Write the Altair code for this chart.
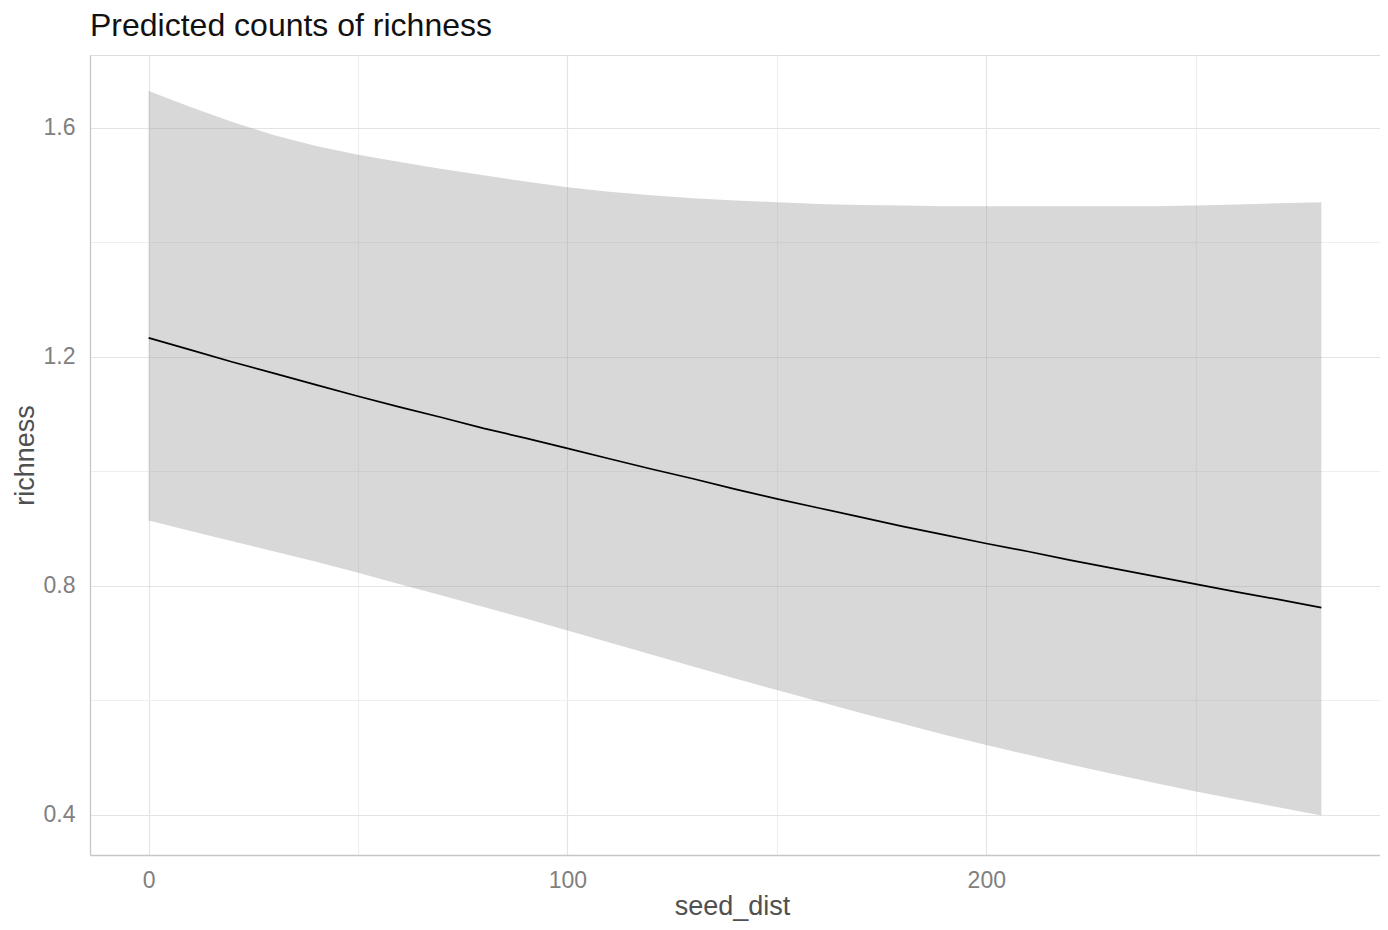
import altair as alt
import pandas as pd

# Values
seed_dist = [0, 10, 20, 30, 40, 50, 60, 70, 80, 90, 100, 110, 120, 130, 140,
             150, 160, 170, 180, 190, 200, 210, 220, 230, 240, 250, 260, 270, 280]
predicted = [1.233, 1.212, 1.191, 1.171, 1.151, 1.131, 1.112, 1.094, 1.075, 1.058,
             1.040, 1.022, 1.004, 0.987, 0.969, 0.952, 0.936, 0.920, 0.904, 0.889,
             0.874, 0.860, 0.845, 0.831, 0.817, 0.803, 0.789, 0.776, 0.762]
conf_low = [0.914, 0.896, 0.878, 0.860, 0.842, 0.823, 0.803, 0.783, 0.763, 0.743,
            0.722, 0.701, 0.680, 0.659, 0.638, 0.618, 0.598, 0.578, 0.559, 0.540,
            0.522, 0.505, 0.488, 0.472, 0.456, 0.441, 0.427, 0.413, 0.399]
conf_high = [1.664, 1.636, 1.610, 1.587, 1.568, 1.553, 1.540, 1.528, 1.517, 1.506,
             1.496, 1.488, 1.482, 1.477, 1.473, 1.470, 1.467, 1.465, 1.464, 1.463,
             1.463, 1.463, 1.463, 1.463, 1.463, 1.464, 1.466, 1.468, 1.470]

x_ticks = [0, 50, 100, 150, 200, 250]
y_ticks = [0.4, 0.6, 0.8, 1.0, 1.2, 1.4, 1.6]

df = pd.DataFrame({
    "seed_dist": seed_dist,
    "predicted": predicted,
    "conf_low": conf_low,
    "conf_high": conf_high,
})

FONT = "Liberation Sans"

x_scale = alt.Scale(domain=[-14, 294], nice=False, zero=False)
y_scale = alt.Scale(domain=[0.330, 1.727], nice=False, zero=False)

x_axis = alt.Axis(
    values=x_ticks,
    labelExpr="datum.value % 100 === 0 ? datum.label : ''",
    grid=True,
    gridColor={"condition": {"test": "datum.value % 100 !== 0", "value": "#EFEFEF"},
               "value": "#E4E4E4"},
    gridWidth=1.2,
    domain=True, domainColor="#C6C6C6", domainWidth=1.3,
    ticks=False, tickSize=0,
    labelFont=FONT, labelFontSize=23, labelColor="#808080",
    labelBaseline="alphabetic", labelPadding=32,
    title="seed_dist", titleFont=FONT, titleFontSize=27, titleColor="#505050",
    titleFontWeight="normal", titleBaseline="alphabetic", titleAlign="center",
    titleX=642, titleY=59,
)

y_axis = alt.Axis(
    values=y_ticks,
    labelExpr="round(datum.value * 10) % 4 === 0 ? format(datum.value, '.1f') : ''",
    grid=True,
    gridColor={"condition": {"test": "round(datum.value * 10) % 4 !== 0", "value": "#EFEFEF"},
               "value": "#E4E4E4"},
    gridWidth=1.2,
    domain=True, domainColor="#C6C6C6", domainWidth=1.3,
    ticks=False, tickSize=0,
    labelFont=FONT, labelFontSize=23, labelColor="#808080",
    labelBaseline="middle", labelPadding=15,
    title="richness", titleFont=FONT, titleFontSize=27, titleColor="#505050",
    titleFontWeight="normal", titleBaseline="alphabetic", titleAlign="center",
    titleAngle=270, titleX=-57, titleY=400,
)

base = alt.Chart(df)

band = base.mark_area(color="#999999", opacity=0.38).encode(
    x=alt.X("seed_dist:Q", scale=x_scale, axis=x_axis),
    y=alt.Y("conf_low:Q", scale=y_scale, axis=y_axis),
    y2="conf_high:Q",
)

line = base.mark_line(color="#000000", strokeWidth=1.7).encode(
    x=alt.X("seed_dist:Q", scale=x_scale),
    y=alt.Y("predicted:Q", scale=y_scale),
)

chart = alt.layer(band, line).properties(
    width=1290,
    height=800,
    autosize=alt.AutoSizeParams(type="none"),
    padding={"left": 82, "top": 47, "right": 0, "bottom": 67},
    title=alt.TitleParams(
        "Predicted counts of richness",
        anchor="start", frame="group", font=FONT, fontSize=32,
        fontWeight="normal", color="#111111", offset=12,
    ),
).configure_view(stroke=None).configure(background="white")

chart.save("out.html", embed_options={"renderer": "svg", "actions": False})
